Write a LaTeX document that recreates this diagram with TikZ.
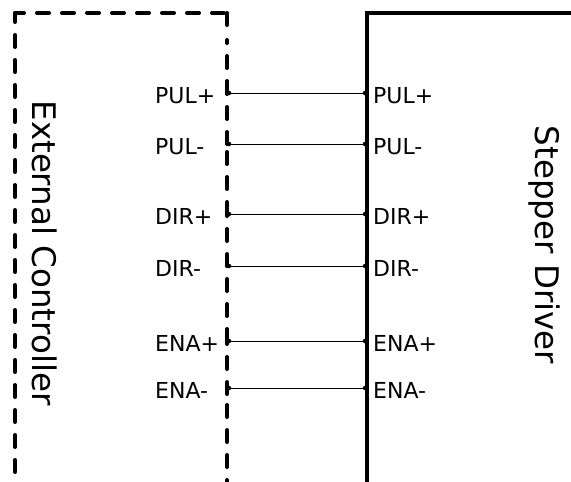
\documentclass[tikz,border=0pt]{standalone}
\usepackage{fontspec}
\setmainfont{DejaVu Sans}
\begin{document}
\begin{tikzpicture}[x=1pt,y=-1pt,
  boxdash/.style={line width=4pt,line cap=round,dash pattern=on 12pt off 13pt,dash phase=3pt},
  drvline/.style={line width=4pt},
  wire/.style={line width=0.8pt},
  pin/.style={font=\fontsize{22}{26}\selectfont,inner sep=0pt,anchor=base west},
  title/.style={font=\fontsize{32.5}{38}\selectfont,inner sep=0pt,anchor=base,rotate=-90},
  dot/.style={circle,fill,inner sep=0pt,minimum size=4.5pt}]
\useasboundingbox (0,0) rectangle (571,482);
% external controller box
\coordinate (tl) at (15,13);
\coordinate (tr) at (227,13);
\coordinate (bl) at (15,490);
\coordinate (br) at (227,490);
\draw[boxdash] (tl) -- (bl);
\draw[boxdash] (tl) -- (tr);
% driver box
\coordinate (dtop) at (367,13);
\coordinate (dright) at (575,13);
\coordinate (dbot) at (367,490);
\draw[drvline] (dright) -- (dtop) -- (dbot);
% wires
\foreach \n/\y/\t in {a/93/PUL+,b/144/PUL-,c/214/DIR+,d/266/DIR-,e/341/ENA+,f/388/ENA-}{
  \node[dot] (L\n) at (229,\y) {};
  \node[dot] (R\n) at (365,\y) {};
  \draw[wire] (L\n.center) -- (R\n.center);
  \node[pin] (lt\n) at (155,\y+10) {\t};
  \node[pin] (rt\n) at (373,\y+10) {\t};
}
% right edge of dashed box, segment by segment
\draw[boxdash,dash phase=0pt] (227,13) -- (227,30);
\draw[boxdash,dash phase=0pt] (227,93) -- (227,40);
\draw[boxdash,dash phase=0pt] (227,144) -- (227,93);
\draw[boxdash,dash phase=0pt] (227,214) -- (227,144);
\draw[boxdash,dash phase=0pt] (227,266) -- (227,214);
\draw[boxdash,dash phase=0pt] (227,341) -- (227,266);
\draw[boxdash,dash phase=0pt] (227,394) -- (227,341);
\draw[boxdash,dash phase=0pt] (227,405) -- (br);
% titles
\node[title] (ext) at (32,253) {External Controller};
\node[title] (drv) at (535,245) {Stepper Driver};
\end{tikzpicture}
\end{document}
